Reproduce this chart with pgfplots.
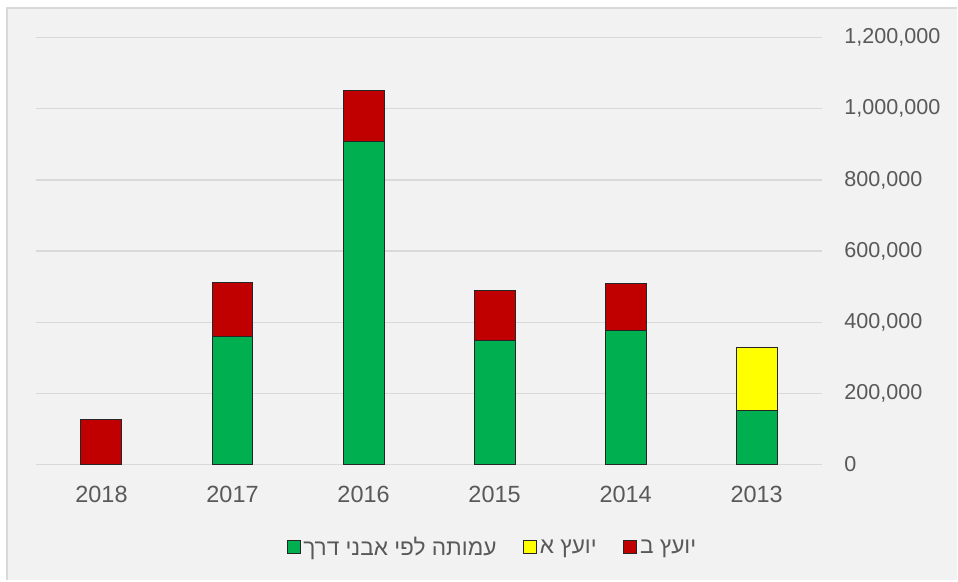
\documentclass[border=0pt]{standalone}
\usepackage{pgfplots}
\pgfplotsset{compat=1.18}
\usepackage{pgfplotstable}
\usepackage{fontspec}
\setmainfont{Liberation Sans}
\newfontfamily\hebfont[Script=Hebrew]{Liberation Sans}
\TeXXeTstate=1
\definecolor{bggray}{HTML}{F2F2F2}
\definecolor{framegray}{HTML}{D9D9D9}
\definecolor{txtgray}{HTML}{595959}
\definecolor{gridgray}{HTML}{D9D9D9}
\definecolor{xlgreen}{HTML}{00B050}
\definecolor{xlred}{HTML}{C00000}
\definecolor{xlyellow}{HTML}{FFFF00}
\definecolor{edge}{HTML}{262626}

\pgfplotstableread{
x year green yellow red
0 2018 0 0 126000
1 2017 360000 0 152000
2 2016 908000 0 143000
3 2015 349000 0 141000
4 2014 377000 0 131000
5 2013 152000 176000 0
}\datatable

\begin{document}
\begin{tikzpicture}[x=0.75pt,y=0.75pt]
\fill[white] (0,0) rectangle (958,581);
\fill[bggray] (7,0) rectangle (958,573);
\draw[framegray,line width=1.5pt] (7.5,0) -- (7.5,572.5) -- (958,572.5);
\begin{axis}[
  at={(36pt*0.75,116pt*0.75)}, anchor=south west,
  scale only axis,
  width=787*0.75pt, height=427.3*0.75pt,
  ybar stacked,
  bar width=41*0.75pt,
  xmin=-0.5, xmax=5.5,
  ymin=0, ymax=1200000,
  xtick=data,
  xticklabels={2018,2017,2016,2015,2014,2013},
  ytick={0,200000,400000,600000,800000,1000000,1200000},
  scaled y ticks=false,
  yticklabel pos=right,
  /pgf/number format/.cd, fixed, precision=0, 1000 sep={,}, assume math mode=true,
  /pgfplots/.cd,
  axis line style={draw=none},
  major tick length=0pt,
  ymajorgrids,
  grid style={gridgray,line width=1pt},
  tick label style={text=txtgray},
  yticklabel style={font=\fontsize{16.2}{18}\selectfont, anchor=west, inner sep=0pt, xshift=16.5pt},
  xticklabel style={font=\fontsize{17.6}{20}\selectfont, anchor=center, inner sep=0pt, yshift=-22.5pt},
  legend columns=3,
  legend style={draw=none, fill=none, at={(0.581,-0.194)}, anchor=center,
    font=\fontsize{17}{20}\selectfont, text=txtgray,
    /tikz/every even column/.append style={column sep=18pt},
    inner sep=0pt},
  legend image code/.code={\draw[#1, draw=edge, line width=0.75pt] (0pt,-4.9pt) rectangle (9.8pt,4.9pt);},
  every axis plot/.append style={draw=edge, line width=0.75pt},
]
\addplot[fill=xlgreen, draw=edge] table[x=x,y=green]{\datatable};
\addlegendentry{\hebfont\beginR עמותה לפי אבני דרך\endR}
\addplot[fill=xlyellow, draw=edge] table[x=x,y=yellow]{\datatable};
\addlegendentry{\hebfont\beginR יועץ א\endR}
\addplot[fill=xlred, draw=edge] table[x=x,y=red]{\datatable};
\addlegendentry{\hebfont\beginR יועץ ב\endR}
\end{axis}
\end{tikzpicture}
\end{document}
